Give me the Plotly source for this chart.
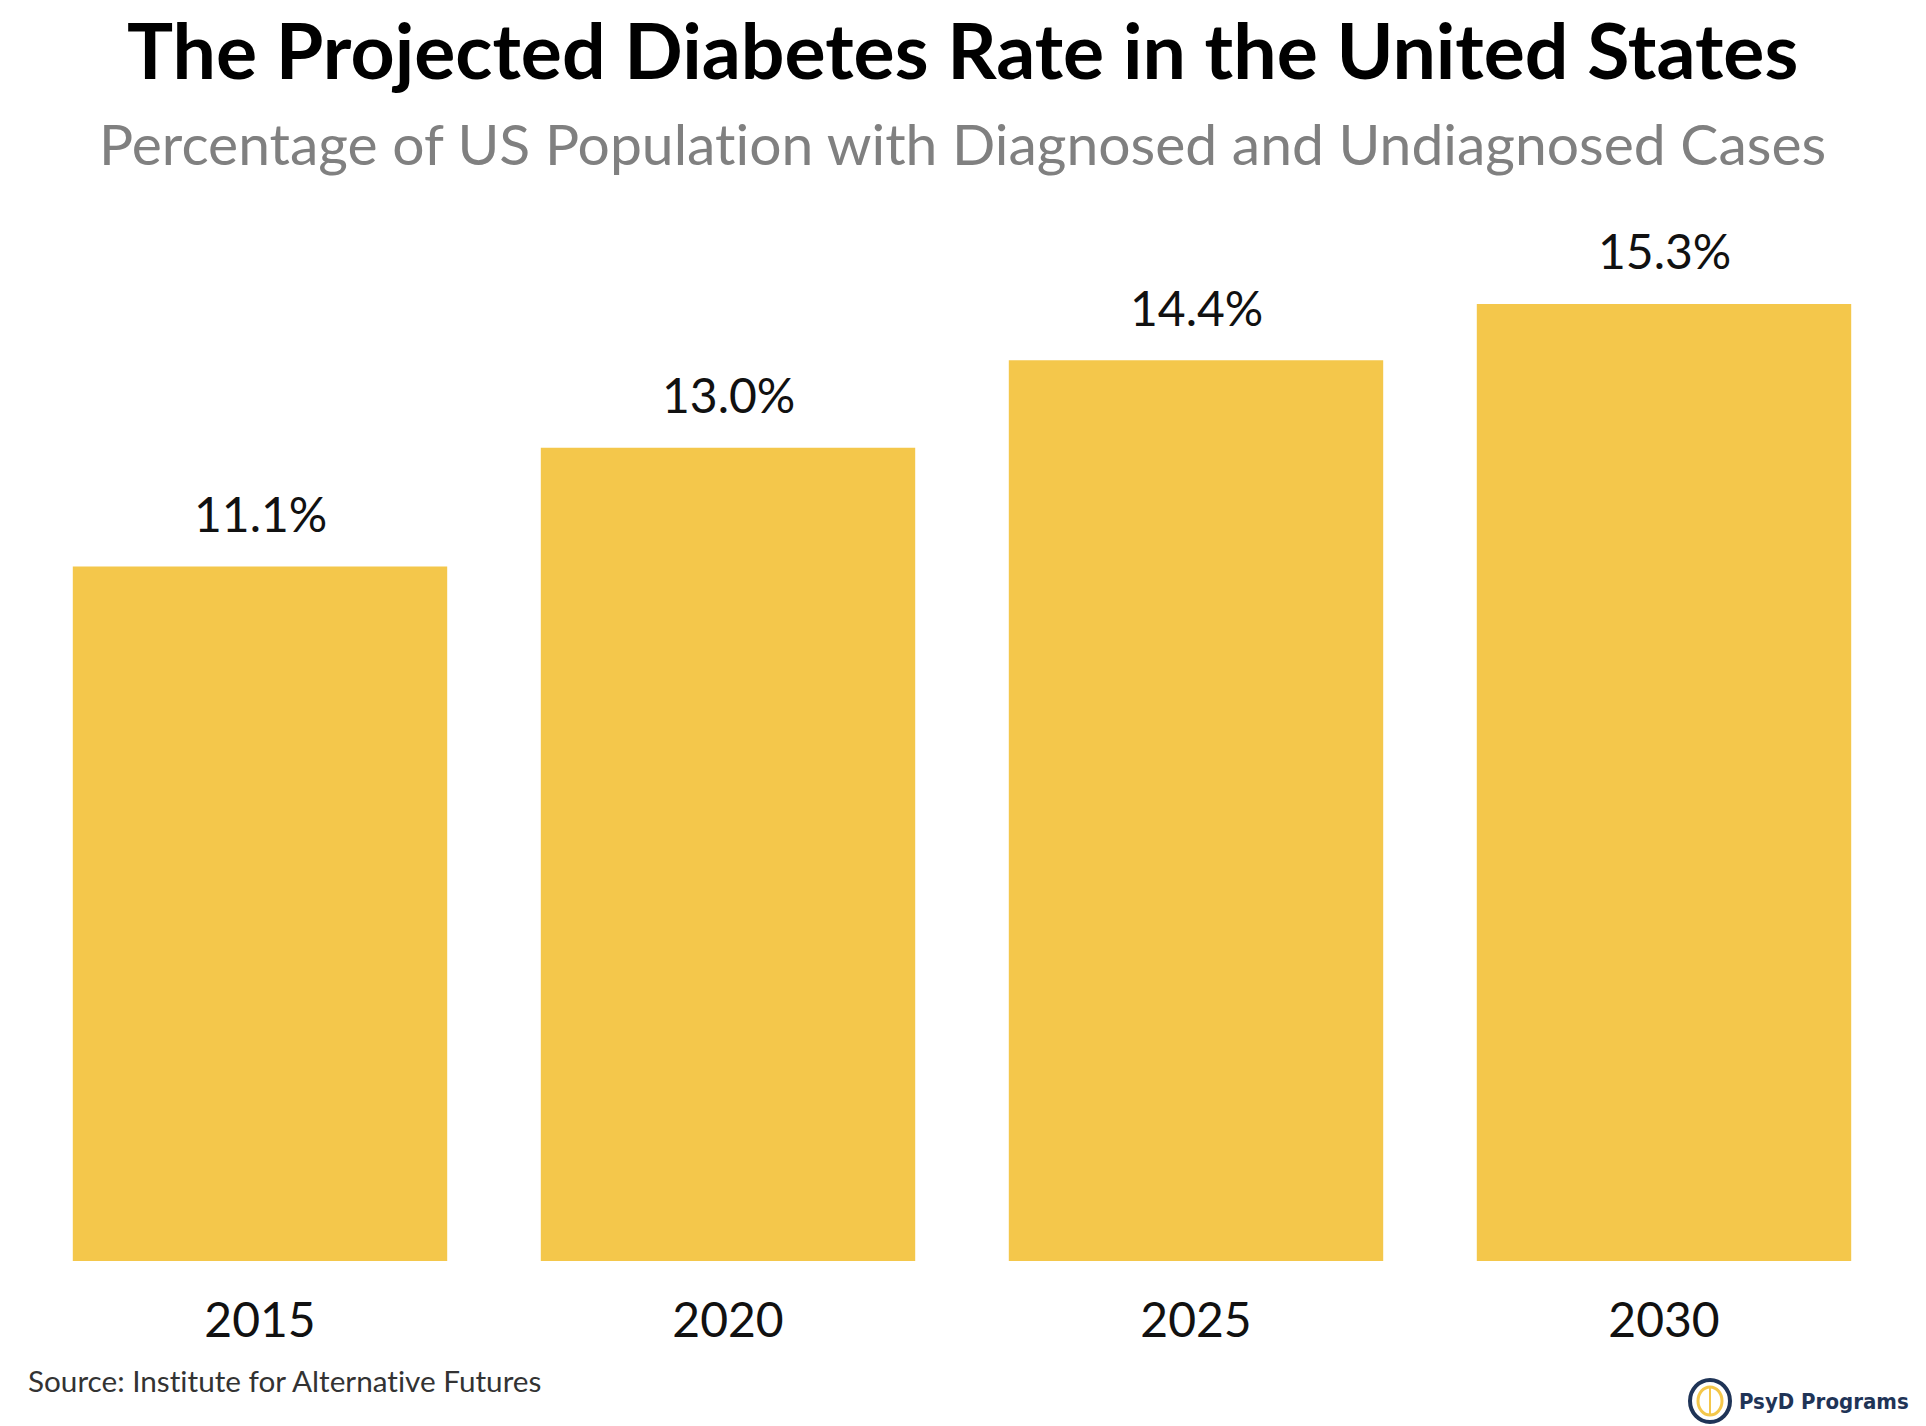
import plotly.graph_objects as go

# data
years = ["2015", "2020", "2025", "2030"]
rates = [11.1, 13.0, 14.4, 15.3]
rate_labels = ["11.1%", "13.0%", "14.4%", "15.3%"]

title = "The Projected Diabetes Rate in the United States"
subtitle = "Percentage of US Population with Diagnosed and Undiagnosed Cases"
source = "Source: Institute for Alternative Futures"
brand = "PsyD Programs"

W, H = 1926, 1426
ml, mr, mt, mb = 26, 28, 160, 165
plot_h = H - mt - mb
plot_w = W - ml - mr
bottom_px = H - mb

bar_color = "#F4C74B"
navy = "#1F3457"


def py(y_px):
    # pixel row on the page -> paper y
    return (bottom_px - y_px) / plot_h


def px(x_px):
    return (x_px - ml) / plot_w


def no_lig(s):
    # Lato joins "ti" into a ligature; the original text does not
    return s.replace("ti", "t\u200ci")


fig = go.Figure()
fig.add_trace(go.Bar(
    x=years, y=rates,
    marker=dict(color=bar_color, line=dict(width=0)),
    hoverinfo="skip",
))

# value labels above bars (category index keeps the years from being read as numbers)
for i, (v, lab) in enumerate(zip(rates, rate_labels)):
    fig.add_annotation(x=i, y=v, text=lab, showarrow=False,
                       yanchor="middle", yshift=53,
                       font=dict(family="Lato", size=48, color="#111111"))

fig.add_annotation(xref="paper", yref="paper", x=0.5, y=py(49),
                   text="<b>" + no_lig(title) + "</b>", showarrow=False,
                   xanchor="center", yanchor="middle",
                   font=dict(family="Lato", size=77, color="#000000"))
fig.add_annotation(xref="paper", yref="paper", x=0.5, y=py(143),
                   text=no_lig(subtitle), showarrow=False,
                   xanchor="center", yanchor="middle",
                   font=dict(family="Lato", size=57, color="#808080"))
fig.add_annotation(xref="paper", yref="paper", x=px(26), y=py(1380),
                   text=no_lig(source), showarrow=False,
                   xanchor="left", yanchor="middle",
                   font=dict(family="Lato", size=29.7, color="#333333"))
fig.add_annotation(xref="paper", yref="paper", x=px(1737), y=py(1401),
                   text="<b>" + brand + "</b>", showarrow=False,
                   xanchor="left", yanchor="middle",
                   font=dict(family="DejaVu Sans Condensed, DejaVu Sans, sans-serif",
                             size=22, color=navy))

# logo badge
cx, cy = px(1710), py(1401)
fig.add_shape(type="circle", xref="paper", yref="paper",
              xsizemode="pixel", ysizemode="pixel",
              xanchor=cx, yanchor=cy,
              x0=-20, x1=20, y0=-21, y1=21,
              line=dict(color=navy, width=4), fillcolor="white")
fig.add_shape(type="circle", xref="paper", yref="paper",
              xsizemode="pixel", ysizemode="pixel",
              xanchor=cx, yanchor=cy,
              x0=-12, x1=12, y0=-14, y1=14,
              line=dict(color=bar_color, width=3), fillcolor="white")
fig.add_shape(type="line", xref="paper", yref="paper",
              xsizemode="pixel", ysizemode="pixel",
              xanchor=cx, yanchor=cy,
              x0=0, x1=0, y0=-13, y1=13,
              line=dict(color=bar_color, width=2))

fig.update_layout(
    width=W, height=H,
    margin=dict(l=ml, r=mr, t=mt, b=mb),
    paper_bgcolor="white", plot_bgcolor="white",
    bargap=0.2,
    showlegend=False,
    xaxis=dict(type="category", range=[-0.5, 3.5], automargin=False,
               showgrid=False, showline=False, zeroline=False,
               ticks="", ticklabelstandoff=27,
               tickfont=dict(family="Lato", size=48, color="#111111")),
    yaxis=dict(range=[0, 17.6], visible=False, automargin=False),
)

# drop the default body margin so the figure sits flush in the window
fig.write_html("out.html", config={"displayModeBar": False},
               post_script="document.body.style.margin='0';")
